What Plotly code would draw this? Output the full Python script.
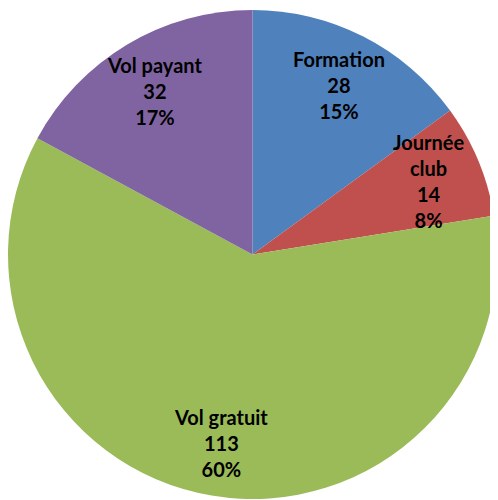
import math
import plotly.graph_objects as go

categories = ["Formation", "Journée club", "Vol gratuit", "Vol payant"]
values = [28, 14, 113, 32]
# \u200c prevents the "ti" ligature of the font
display_labels = ["Forma\u200ction", "Journée<br>club", "Vol gratuit", "Vol payant"]
percent_labels = ["15%", "8%", "60%", "17%"]
colors = ["#4F81BD", "#C0504D", "#9BBB59", "#8064A2"]

# figure sized so that, with the page's default 8px body margin, it fits the window
W, H = 490, 492
dom_x = [0.0, 489 / W]
dom_y = [1 - 491.5 / H, 1 - 1.5 / H]

fig = go.Figure(go.Pie(
    labels=categories,
    values=values,
    textinfo="none",
    marker=dict(colors=colors, line=dict(width=0)),
    sort=False,
    direction="clockwise",
    rotation=0,
    domain=dict(x=dom_x, y=dom_y),
    showlegend=False,
    hoverinfo="label+value+percent",
))

# data labels placed along each slice's bisector
cx = (dom_x[0] + dom_x[1]) / 2
cy = (dom_y[0] + dom_y[1]) / 2
r_px = min((dom_x[1] - dom_x[0]) * W, (dom_y[1] - dom_y[0]) * H) / 2
total = sum(values)
label_frac = 0.78
cum = 0
for lab, v, pct in zip(display_labels, values, percent_labels):
    mid = (cum + v / 2) / total * 2 * math.pi
    cum += v
    x = cx + label_frac * r_px * math.sin(mid) / W
    y = cy + label_frac * r_px * math.cos(mid) / H
    fig.add_annotation(
        x=x, y=y, xref="paper", yref="paper",
        text=f"{lab}<br>{v}<br>{pct}",
        showarrow=False, xanchor="center", yanchor="middle",
        font=dict(family="Lato", size=20, color="#000000", weight="bold"),
        align="center",
    )

fig.update_layout(
    width=W, height=H,
    margin=dict(l=0, r=0, t=0, b=0),
    paper_bgcolor="white",
)
fig.write_html("out.html")
